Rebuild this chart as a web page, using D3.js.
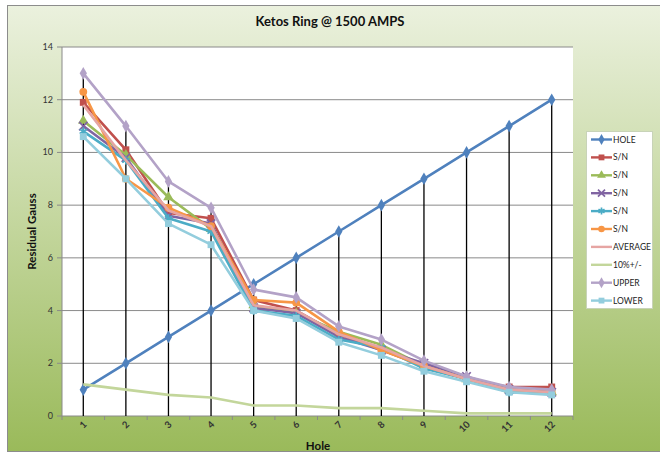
<!DOCTYPE html>
<html>
<head>
<meta charset="utf-8">
<script src="https://cdn.jsdelivr.net/npm/d3@7"></script>
<style>
  body { margin: 0; background: #fff; }
  svg { display: block; font-family: Lato, "Open Sans", sans-serif; }
</style>
</head>
<body>
<svg id="chart" width="660" height="454"></svg>
<script>
// data
var holes = ['1', '2', '3', '4', '5', '6', '7', '8', '9', '10', '11', '12'];
var yTicks = [0, 2, 4, 6, 8, 10, 12, 14];

var hole    = [1, 2, 3, 4, 5, 6, 7, 8, 9, 10, 11, 12];
var sn1     = [11.9, 10.1, 7.7, 7.5, 4.4, 4.0, 3.1, 2.5, 1.9, 1.4, 1.1, 1.1];
var sn2     = [11.2, 9.9, 8.3, 7.1, 4.2, 3.9, 3.2, 2.7, 1.9, 1.4, 1.0, 0.9];
var sn3     = [11.0, 9.8, 7.6, 7.3, 4.1, 3.9, 3.0, 2.5, 2.0, 1.5, 1.0, 0.9];
var sn4     = [10.8, 9.7, 7.5, 7.0, 4.0, 3.8, 2.9, 2.6, 1.8, 1.4, 0.9, 0.9];
var sn5     = [12.3, 9.0, 7.9, 7.2, 4.4, 4.3, 3.2, 2.5, 1.9, 1.4, 1.0, 0.9];
var average = [11.8, 9.7, 7.8, 7.2, 4.2, 4.0, 3.1, 2.6, 1.9, 1.4, 1.0, 0.9];
var tenPct  = [1.2, 1.0, 0.8, 0.7, 0.4, 0.4, 0.3, 0.3, 0.2, 0.1, 0.1, 0.1];
var upper   = [13.0, 11.0, 8.9, 7.9, 4.8, 4.5, 3.4, 2.9, 2.1, 1.5, 1.1, 1.0];
var lower   = [10.6, 9.0, 7.3, 6.5, 4.0, 3.7, 2.8, 2.3, 1.7, 1.3, 0.9, 0.8];

var series = [
  { name: 'HOLE', values: hole, color: '#4f81bd', marker: 'diamond' },
  { name: 'S/N', values: sn1, color: '#c0504d', marker: 'square' },
  { name: 'S/N', values: sn2, color: '#9bbb59', marker: 'triangle' },
  { name: 'S/N', values: sn3, color: '#8064a2', marker: 'x' },
  { name: 'S/N', values: sn4, color: '#4bacc6', marker: 'star' },
  { name: 'S/N', values: sn5, color: '#f79646', marker: 'circle' },
  { name: 'AVERAGE', values: average, color: '#e6a5a3', marker: null },
  { name: '10%+/-', values: tenPct, color: '#c3d69b', marker: null },
  { name: 'UPPER', values: upper, color: '#b3a2c7', marker: 'diamond' },
  { name: 'LOWER', values: lower, color: '#93cddd', marker: 'square' }
];

var svg = d3.select('#chart');

// background with green gradient
var grad = svg.append('defs').append('linearGradient')
    .attr('id', 'bg').attr('x1', 0).attr('y1', 0).attr('x2', 0).attr('y2', 1);
grad.append('stop').attr('offset', '0%').attr('stop-color', '#ebf1de');
grad.append('stop').attr('offset', '100%').attr('stop-color', '#9aba5a');

svg.append('rect')
    .attr('x', 7.5).attr('y', 5.5).attr('width', 660).attr('height', 446)
    .attr('fill', 'url(#bg)').attr('stroke', '#8c8c8c');

var plotL = 62, plotR = 573, plotT = 47, plotB = 416;

var x = d3.scaleBand().domain(holes).range([plotL, plotR]);
var y = d3.scaleLinear().domain([0, 14]).range([plotB, plotT]);

svg.append('rect')
    .attr('x', plotL).attr('y', plotT).attr('width', plotR - plotL).attr('height', plotB - plotT)
    .attr('fill', '#fff');

// gridlines
svg.append('g').selectAll('line')
    .data(yTicks)
    .enter()
    .append('line')
    .attr('x1', plotL - 5).attr('x2', plotR)
    .attr('y1', function(d) { return y(d); })
    .attr('y2', function(d) { return y(d); })
    .attr('stroke', '#8a8a8a').attr('stroke-width', 1);

// y axis
svg.append('line')
    .attr('x1', plotL).attr('x2', plotL).attr('y1', plotT).attr('y2', plotB)
    .attr('stroke', '#8a8a8a');

svg.append('g').selectAll('text')
    .data(yTicks)
    .enter()
    .append('text')
    .attr('x', plotL - 9)
    .attr('y', function(d) { return y(d) + 3; })
    .attr('text-anchor', 'end')
    .attr('font-size', 9)
    .attr('fill', '#333')
    .text(function(d) { return d; });

// x axis ticks and labels
svg.append('g').selectAll('line')
    .data(d3.range(holes.length + 1))
    .enter()
    .append('line')
    .attr('x1', function(d) { return plotL + d * x.bandwidth(); })
    .attr('x2', function(d) { return plotL + d * x.bandwidth(); })
    .attr('y1', plotB).attr('y2', plotB + 4)
    .attr('stroke', '#8a8a8a');

svg.append('g').selectAll('text')
    .data(holes)
    .enter()
    .append('text')
    .attr('transform', function(d) {
        return 'translate(' + (x(d) + x.bandwidth() / 2 + 4) + ',' + (plotB + 9) + ') rotate(-45)';
    })
    .attr('text-anchor', 'end')
    .attr('font-size', 9.5)
    .attr('font-weight', 'bold')
    .attr('fill', '#333')
    .text(function(d) { return d; });

// drop lines from the highest value down to the axis
svg.append('g').selectAll('line')
    .data(holes)
    .enter()
    .append('line')
    .attr('x1', function(d) { return x(d) + x.bandwidth() / 2; })
    .attr('x2', function(d) { return x(d) + x.bandwidth() / 2; })
    .attr('y1', function(d, i) {
        return y(d3.max(series, function(s) { return s.values[i]; }));
    })
    .attr('y2', plotB)
    .attr('stroke', '#000').attr('stroke-width', 1.3);

function cx(i) { return x(holes[i]) + x.bandwidth() / 2; }

var line = d3.line()
    .x(function(d, i) { return cx(i); })
    .y(function(d) { return y(d); });

function marker(g, type, color, size) {
    var sym = {
        diamond: d3.symbolDiamond,
        square: d3.symbolSquare,
        triangle: d3.symbolTriangle,
        circle: d3.symbolCircle,
        x: d3.symbolX,
        star: d3.symbolAsterisk
    }[type];
    var p = g.append('path').attr('d', d3.symbol().type(sym).size(size)());
    if (type === 'x' || type === 'star') {
        p.attr('fill', 'none').attr('stroke', color).attr('stroke-width', 1.7);
    } else {
        p.attr('fill', color);
    }
    return p;
}

series.forEach(function(s) {
    var g = svg.append('g');
    g.append('path')
        .datum(s.values)
        .attr('d', line)
        .attr('fill', 'none')
        .attr('stroke', s.color)
        .attr('stroke-width', 2.6)
        .attr('stroke-linejoin', 'round');
    if (s.marker) {
        s.values.forEach(function(v, i) {
            var m = g.append('g').attr('transform', 'translate(' + cx(i) + ',' + y(v) + ')');
            marker(m, s.marker, s.color, s.marker === 'diamond' ? 46 : 48);
        });
    }
});

// titles
svg.append('text')
    .attr('x', 330).attr('y', 26)
    .attr('text-anchor', 'middle')
    .attr('font-size', 13).attr('font-weight', 'bold')
    .attr('fill', '#111')
    .text('Ketos Ring @ 1500 AMPS');

svg.append('text')
    .attr('transform', 'translate(36,' + ((plotT + plotB) / 2) + ') rotate(-90)')
    .attr('text-anchor', 'middle')
    .attr('font-size', 11.5).attr('font-weight', 'bold')
    .attr('fill', '#111')
    .text('Residual Gauss');

svg.append('text')
    .attr('x', 318).attr('y', 450)
    .attr('text-anchor', 'middle')
    .attr('font-size', 11.5).attr('font-weight', 'bold')
    .attr('fill', '#111')
    .text('Hole');

// legend
var legend = svg.append('g');
legend.append('rect')
    .attr('x', 586.5).attr('y', 131.5).attr('width', 66).attr('height', 177)
    .attr('fill', '#fff').attr('stroke', '#c8d3b8');

var items = legend.selectAll('g.item')
    .data(series)
    .enter()
    .append('g')
    .attr('class', 'item')
    .attr('transform', function(d, i) { return 'translate(591,' + (139.5 + i * 17.9) + ')'; });

items.append('line')
    .attr('x1', 0).attr('x2', 21)
    .attr('stroke', function(d) { return d.color; })
    .attr('stroke-width', 2.4);

items.each(function(d) {
    if (d.marker) {
        var m = d3.select(this).append('g').attr('transform', 'translate(10.5,0)');
        marker(m, d.marker, d.color, 34);
    }
});

items.append('text')
    .attr('x', 22).attr('y', 3)
    .attr('font-size', 8.5)
    .attr('fill', '#222')
    .text(function(d) { return d.name; });
</script>
</body>
</html>
